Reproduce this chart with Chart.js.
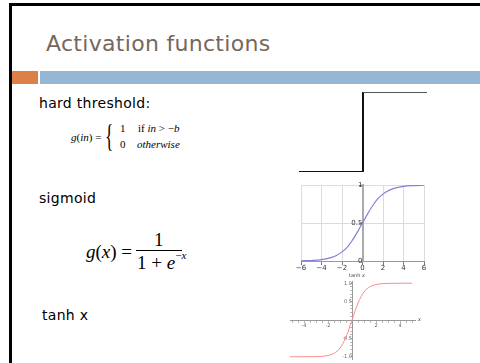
<!DOCTYPE html>
<html>
<head>
<meta charset="utf-8">
<script src="https://cdn.jsdelivr.net/npm/chart.js@4.4.1/dist/chart.umd.min.js"></script>
<style>
  html, body { margin: 0; padding: 0; background: #fff; }
  body { width: 480px; height: 363px; position: relative; overflow: hidden; font-family: "DejaVu Sans", sans-serif; }
  .abs { position: absolute; line-height: 1; white-space: nowrap; }
  #frameTop { left: 9px; top: 3px; width: 471px; height: 3px; background: #000; }
  #frameLeft { left: 9px; top: 3px; width: 3px; height: 360px; background: #000; }
  #title { left: 46px; top: 33px; font-size: 22px; letter-spacing: 0.3px; color: #76675e; }
  #barOrange { left: 12px; top: 71px; width: 26px; height: 13px; background: #dd8047; }
  #barBlue { left: 40px; top: 71px; width: 440px; height: 13px; background: #94b6d2; }
  .label { font-size: 14px; letter-spacing: 0.3px; color: #000; }
  .math { font-family: "Liberation Serif", "DejaVu Serif", serif; color: #000; }
  .f1 { font-size: 11px; }
  .f2 { font-size: 19px; }
  i { font-style: italic; }
  .chartBox { position: absolute; }
  .tiny { font-size: 5px; color: #444; font-family: "DejaVu Sans", sans-serif; }
</style>
</head>
<body>
<div id="frameTop" class="abs"></div>
<div id="frameLeft" class="abs"></div>
<div id="title" class="abs">Activation functions</div>
<div id="barOrange" class="abs"></div>
<div id="barBlue" class="abs"></div>

<!-- hard threshold -->
<div class="abs label" style="left:39px; top:96px;">hard threshold:</div>
<div class="abs math f1" style="left:71px; top:132px;"><i>g</i>(<i>in</i>) =</div>
<div class="abs math" style="left:105px; top:120px; font-size:32px; transform:scaleX(0.55); transform-origin:left top;">{</div>
<div class="abs math f1" style="left:120px; top:123px;">1</div>
<div class="abs math f1" style="left:138px; top:123px;">if <i>in</i> &gt; &minus;<i>b</i></div>
<div class="abs math f1" style="left:120px; top:139px;">0</div>
<div class="abs math f1" style="left:137px; top:139px;"><i>otherwise</i></div>

<!-- sigmoid -->
<div class="abs label" style="left:39px; top:191px;">sigmoid</div>
<div class="abs math f2" style="left:86px; top:242px;"><i>g</i>(<i>x</i>) =</div>
<div class="abs math f2" style="left:154px; top:230px;">1</div>
<div class="abs" style="left:136px; top:250px; width:46px; height:1px; background:#000;"></div>
<div class="abs math f2" style="left:137px; top:253px;">1 + <i>e</i><sup style="font-size:11px; position:relative; top:-3px;">&minus;<i>x</i></sup></div>

<!-- tanh -->
<div class="abs label" style="left:42px; top:308px;">tanh x</div>

<div class="chartBox" style="left:297px; top:90px; width:132px; height:84px;"><canvas id="stepChart"></canvas></div>
<div class="chartBox" style="left:290px; top:178px; width:145px; height:97px;"><canvas id="sigmoidChart"></canvas></div>
<div class="chartBox" style="left:285px; top:272px; width:140px; height:91px;"><canvas id="tanhChart"></canvas></div>
<div class="abs tiny" style="left:349px; top:273px;">tanh <i>x</i></div>
<div class="abs tiny" style="left:418px; top:317px;"><i>x</i></div>

<script>
// hard threshold: 0 up to the threshold, 1 after it
const stepX = [-1, 0, 1];
const stepY = [0, 1, 1];

// logistic curve samples
const sigmoidX = [-6, -5, -4, -3, -2.5, -2, -1.5, -1, -0.5, 0, 0.5, 1, 1.5, 2, 2.5, 3, 4, 5, 6];
const sigmoidY = [0.0025, 0.0067, 0.018, 0.047, 0.076, 0.12, 0.18, 0.27, 0.38, 0.5, 0.62, 0.73, 0.82, 0.88, 0.924, 0.953, 0.982, 0.993, 0.9975];
const sigmoidXTicks = [-6, -4, -2, 0, 2, 4, 6];
const sigmoidYTicks = [0, 0.5, 1];

// tanh samples
const tanhX = [-5.2, -4, -3, -2.5, -2, -1.5, -1, -0.5, 0, 0.5, 1, 1.5, 2, 2.5, 3, 4, 5];
const tanhY = [-1, -0.999, -0.995, -0.987, -0.964, -0.905, -0.762, -0.462, 0, 0.462, 0.762, 0.905, 0.964, 0.987, 0.995, 0.999, 1];
const tanhXLabels = [-4, -2, 2, 4];
const tanhYLabels = [-1, -0.5, 0.5, 1];

function points(xs, ys) {
    return xs.map((x, i) => ({ x: x, y: ys[i] }));
}

function range(from, to, step) {
    const out = [];
    for (let v = from; v <= to + 1e-9; v += step) out.push(Math.round(v * 100) / 100);
    return out;
}

const noPlugins = { legend: { display: false }, tooltip: { enabled: false } };

new Chart(document.getElementById('stepChart'), {
    type: 'line',
    data: {
        datasets: [{
            data: points(stepX, stepY),
            stepped: 'before',
            borderWidth: 2,
            borderColor: '#000',
            segment: { borderColor: ctx => ctx.p0DataIndex === 0 ? '#111' : '#555' },
            pointRadius: 0
        }]
    },
    options: {
        responsive: true,
        maintainAspectRatio: false,
        animation: false,
        layout: { padding: 2 },
        plugins: noPlugins,
        scales: {
            x: { type: 'linear', min: -1, max: 1, display: false },
            y: { min: 0, max: 1, display: false }
        }
    }
});

new Chart(document.getElementById('sigmoidChart'), {
    type: 'line',
    data: {
        datasets: [{
            data: points(sigmoidX, sigmoidY),
            borderColor: '#8080d8',
            borderWidth: 1.2,
            cubicInterpolationMode: 'monotone',
            pointRadius: 0
        }]
    },
    options: {
        responsive: true,
        maintainAspectRatio: false,
        animation: false,
        layout: { padding: { left: 11, right: 11, top: 7, bottom: 14 } },
        plugins: noPlugins,
        scales: {
            x: {
                type: 'linear', min: -6, max: 6,
                position: { y: 0 },
                afterBuildTicks: s => { s.ticks = sigmoidXTicks.map(v => ({ value: v })); },
                grid: { color: '#dcdcdc', tickColor: '#777', tickLength: 3 },
                border: { color: '#999', width: 1 },
                ticks: {
                    padding: 0, color: '#333', font: { size: 7, family: 'DejaVu Sans' },
                    maxRotation: 0, autoSkip: false,
                    callback: v => (v < 0 ? '\u2212' + Math.abs(v) : String(v))
                }
            },
            y: {
                min: 0, max: 1,
                position: { x: 0 },
                afterBuildTicks: s => { s.ticks = sigmoidYTicks.map(v => ({ value: v })); },
                grid: { color: '#dcdcdc', tickColor: '#777', tickLength: 3 },
                border: { color: '#aaa', width: 2 },
                ticks: { padding: 0, color: '#333', font: { size: 7, family: 'DejaVu Sans' }, callback: v => String(v) }
            }
        }
    }
});

new Chart(document.getElementById('tanhChart'), {
    type: 'line',
    data: {
        datasets: [{
            data: points(tanhX, tanhY),
            borderColor: '#ff8a8a',
            borderWidth: 1,
            cubicInterpolationMode: 'monotone',
            pointRadius: 0
        }]
    },
    options: {
        responsive: true,
        maintainAspectRatio: false,
        animation: false,
        layout: { padding: { left: 5, right: 10, top: 9, bottom: 4 } },
        plugins: noPlugins,
        scales: {
            x: {
                type: 'linear', min: -5.17, max: 5.25,
                position: { y: 0 },
                afterBuildTicks: s => { s.ticks = range(-5, 5, 0.5).map(v => ({ value: v })); },
                grid: { drawOnChartArea: false, tickColor: '#bbb', tickLength: 2 },
                border: { color: '#999', width: 1 },
                ticks: {
                    padding: 1, color: '#666', font: { size: 5, family: 'DejaVu Sans' },
                    maxRotation: 0, autoSkip: false,
                    callback: v => (tanhXLabels.includes(v) ? String(v) : '')
                }
            },
            y: {
                min: -1.06, max: 1.06,
                position: { x: 0 },
                afterBuildTicks: s => { s.ticks = range(-1, 1, 0.1).map(v => ({ value: v })); },
                grid: { drawOnChartArea: false, tickColor: '#bbb', tickLength: 2 },
                border: { color: '#999', width: 1 },
                ticks: {
                    padding: 1, color: '#666', font: { size: 5, family: 'DejaVu Sans' }, autoSkip: false,
                    callback: v => (tanhYLabels.includes(v) ? v.toFixed(1) : '')
                }
            }
        }
    }
});
</script>
</body>
</html>
